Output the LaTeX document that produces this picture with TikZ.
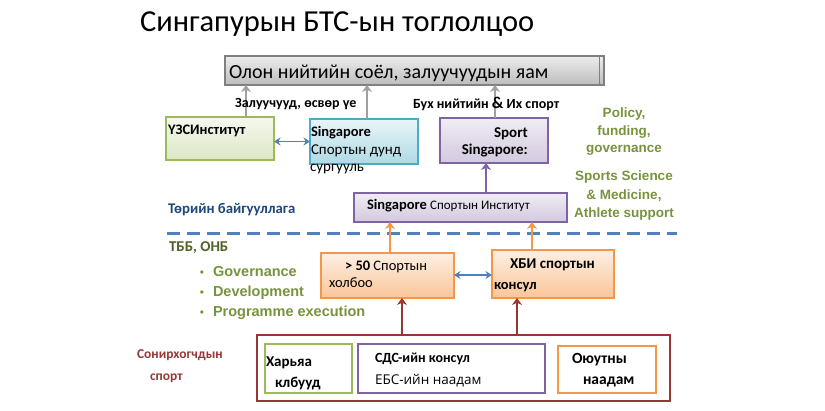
\documentclass[tikz,border=0pt]{standalone}
\usepackage{fontspec}
\setmainfont{Carlito}
\newfontfamily\arialf{Liberation Sans}
\newfontfamily\opensf{Open Sans}
\usetikzlibrary{arrows.meta}
\definecolor{grayb}{HTML}{808080}
\definecolor{grayarr}{HTML}{A0A0A0}
\definecolor{grnb}{HTML}{9BBB59}
\definecolor{cyab}{HTML}{4BACC6}
\definecolor{purb}{HTML}{8064A2}
\definecolor{orab}{HTML}{F79646}
\definecolor{bluel}{HTML}{4F81BD}
\definecolor{redb}{HTML}{953735}
\definecolor{gtxt}{HTML}{77933C}
\definecolor{navy}{HTML}{1F497D}
\definecolor{olive}{HTML}{4F6228}
\tikzset{
  boxbase/.style={draw, rectangle, anchor=north west, outer sep=0pt, inner sep=0pt},
  topbox/.style={boxbase, draw=grayb, line width=1.2pt, top color=white!93!black, bottom color=white!74!black},
  gbox/.style={boxbase, draw=grnb, line width=1.4pt, top color=white!90!grnb, bottom color=white!65!grnb},
  cbox/.style={boxbase, draw=cyab, line width=1.4pt, top color=white!88!cyab, bottom color=white!55!cyab},
  pbox/.style={boxbase, draw=purb, line width=1.4pt, top color=white!88!purb, bottom color=white!65!purb},
  obox/.style={boxbase, draw=orab, line width=1.4pt, top color=white!85!orab, bottom color=white!45!orab},
  plainbox/.style={boxbase, line width=1.5pt, fill=white},
  lbl/.style={anchor=base west, inner sep=0pt, outer sep=0pt},
  gline/.style={anchor=base, inner sep=0pt, text=gtxt, font=\arialf\bfseries\fontsize{13.5}{16}\selectfont},
  grayarrow/.style={draw=grayarr, line width=2.4pt, -{Stealth[length=7pt,width=10pt]}},
  bluearrow/.style={draw=bluel, line width=1.8pt, {Stealth[length=6.5pt,width=8pt]}-{Stealth[length=6.5pt,width=8pt]}},
  colarrow/.style={line width=2.4pt, -{Stealth[length=7pt,width=10pt]}},
}
\begin{document}
\begin{tikzpicture}[x=1pt,y=-1pt]
\useasboundingbox (0,0) rectangle (825,411);
% title
\node[lbl, font=\fontsize{30.5}{33}\selectfont] (title) at (140,32) {Сингапурын БТС-ын тоглолцоо};
% top ministry box
\node[topbox, minimum width=379pt, minimum height=29pt] (top) at (225,56) {};
\draw[grayb, line width=0.8pt] ([xshift=-5pt]top.north east) -- ([xshift=-5pt]top.south east);
\node[lbl, font=\fontsize{20}{22}\selectfont] (toptxt) at (229,78.5) {Олон нийтийн соёл, залуучуудын яам};
% upper boxes
\node[gbox, minimum width=108pt, minimum height=43pt] (green) at (166,117) {};
\node[lbl, font=\bfseries\fontsize{14.5}{16}\selectfont] (greentxt) at (168,135) {ҮЗСИнститут};
\node[cbox, minimum width=108pt, minimum height=45pt] (cyan) at (310,119) {};
\node[lbl, font=\bfseries\fontsize{14.5}{16}\selectfont] (cyantxt1) at (311,137) {Singapore};
\node[lbl, font=\fontsize{15}{16}\selectfont] (cyantxt2) at (311,155) {Спортын дунд};
\node[lbl, font=\fontsize{15}{16}\selectfont] (cyantxt3) at (310,172) {сургууль};
\node[pbox, minimum width=108pt, minimum height=45pt] (ss) at (440,118) {};
\node[anchor=base east, inner sep=0pt, font=\bfseries\fontsize{15}{16}\selectfont] (sstxt1) at (528,138) {Sport};
\node[anchor=base east, inner sep=0pt, font=\bfseries\fontsize{15}{16}\selectfont] (sstxt2) at (528,155) {Singapore:};
\node[pbox, minimum width=213pt, minimum height=29pt] (ssi) at (354,193) {};
\node[lbl] (ssitxt) at (367,210) {\bfseries\fontsize{14.5}{16}\selectfont Singapore \mdseries\fontsize{13}{14}\selectfont Спортын Институт};
% gray arrows
\coordinate (ga) at (246,0);
\coordinate (gb) at (367,0);
\coordinate (gc) at (495,0);
\draw[grayarrow] (green.north -| ga) -- (top.south -| ga);
\draw[grayarrow] (cyan.north -| gb) -- (top.south -| gb);
\draw[grayarrow] (ss.north -| gc) -- (top.south -| gc);
% arrow labels
\node[lbl, font=\bfseries\fontsize{14}{14}\selectfont] (lab1) at (235,108) {Залуучууд, өсвөр үе};
\node[lbl, font=\bfseries\fontsize{14}{14}\selectfont] (lab2) at (413,109) {Бух нийтийн {\fontsize{16.5}{16}\selectfont\&} Их спорт};
\coordinate (bya) at (0,141.5);
\draw[bluearrow] (green.east |- bya) -- (cyan.west |- bya);
\coordinate (pa) at (486,0);
\draw[colarrow, draw=purb] (ssi.north -| pa) -- (ss.south -| pa);
% right green text
\node[gline] (pol1) at (624,118) {Policy,};
\node[gline] (pol2) at (624,135.5) {funding,};
\node[gline] (pol3) at (624,152.5) {governance};
\node[gline] (sci1) at (624,181) {Sports Science};
\node[gline] (sci2) at (624,199.5) {\& Medicine,};
\node[gline] (sci3) at (624,218) {Athlete support};
% government label and divider
\node[lbl, text=navy, font=\bfseries\fontsize{14.8}{16}\selectfont] (gov) at (168,214) {Төрийн байгууллага};
\coordinate (dl) at (167,233.5);
\coordinate (dr) at (677,233.5);
\draw[bluel, line width=2.6pt, dash pattern=on 13pt off 7pt] (dl) -- (dr);
\node[lbl, text=olive, font=\bfseries\fontsize{15}{16}\selectfont] (ngo) at (169,252) {ТББ, ОНБ};
% bullets
\foreach \yy/\tt/\nm in {277/Governance/b1, 297/Development/b2, 317/Programme execution/b3}{
  \node[lbl, text=gtxt, font=\arialf\bfseries\fontsize{14.5}{16}\selectfont] (\nm) at (213,\yy) {\tt};
  \node[anchor=base, inner sep=0pt, text=gtxt, font=\arialf\fontsize{12}{14}\selectfont] (\nm d) at (202,\yy) {•};
}
% orange boxes
\node[obox, minimum width=133pt, minimum height=45pt] (nsa) at (321,253) {};
\node[lbl, font=\bfseries\fontsize{14.5}{16}\selectfont] (nsatxt1) at (345,271) {> 50 \mdseries Спортын};
\node[lbl, font=\fontsize{14.5}{16}\selectfont] (nsatxt2) at (329,288) {холбоо};
\node[obox, minimum width=122pt, minimum height=48pt] (hbi) at (492,250) {};
\node[lbl, font=\bfseries\fontsize{15}{16}\selectfont] (hbitxt1) at (510,269) {ХБИ спортын};
\node[lbl, font=\bfseries\fontsize{14.5}{16}\selectfont] (hbitxt2) at (494,290) {консул};
\coordinate (byb) at (0,275);
\draw[bluearrow] (nsa.east |- byb) -- (hbi.west |- byb);
\coordinate (oa) at (390,0);
\coordinate (ob) at (532,0);
\draw[colarrow, draw=orab] (nsa.north -| oa) -- (ssi.south -| oa);
\draw[colarrow, draw=orab] (hbi.north -| ob) -- (ssi.south -| ob);
% bottom
\node[plainbox, draw=redb, line width=2pt, minimum width=413pt, minimum height=66pt] (big) at (257,335) {};
\coordinate (ra) at (402,0);
\coordinate (rb) at (517,0);
\draw[colarrow, draw=redb] (big.north -| ra) -- (nsa.south -| ra);
\draw[colarrow, draw=redb] (big.north -| rb) -- (hbi.south -| rb);
\node[plainbox, draw=grnb, minimum width=87pt, minimum height=49pt] (clubs) at (265,344) {};
\node[lbl, font=\bfseries\fontsize{15}{16}\selectfont] (clubtxt1) at (266,367) {Харьяа};
\node[lbl, font=\bfseries\fontsize{15}{16}\selectfont] (clubtxt2) at (275,388) {клбууд};
\node[plainbox, draw=purb, minimum width=187pt, minimum height=49pt] (sds) at (358,344) {};
\node[lbl, font=\bfseries\fontsize{14}{16}\selectfont] (sdstxt1) at (375,363) {СДС-ийн консул};
\node[lbl, font=\opensf\fontsize{13.5}{16}\selectfont] (sdstxt2) at (375,385) {ЕБС-ийн наадам};
\node[plainbox, draw=orab, minimum width=98pt, minimum height=47pt] (stu) at (558,346) {};
\node[lbl, font=\bfseries\fontsize{15.5}{16}\selectfont] (stutxt1) at (572,364) {Оюутны};
\node[lbl, font=\bfseries\fontsize{15.5}{16}\selectfont] (stutxt2) at (583,385) {наадам};
\node[lbl, text=redb, font=\bfseries\fontsize{13.5}{15}\selectfont] (amat1) at (137,359) {Сонирхогчдын};
\node[lbl, text=redb, font=\bfseries\fontsize{13.5}{15}\selectfont] (amat2) at (150,381) {спорт};
\end{tikzpicture}
\end{document}
